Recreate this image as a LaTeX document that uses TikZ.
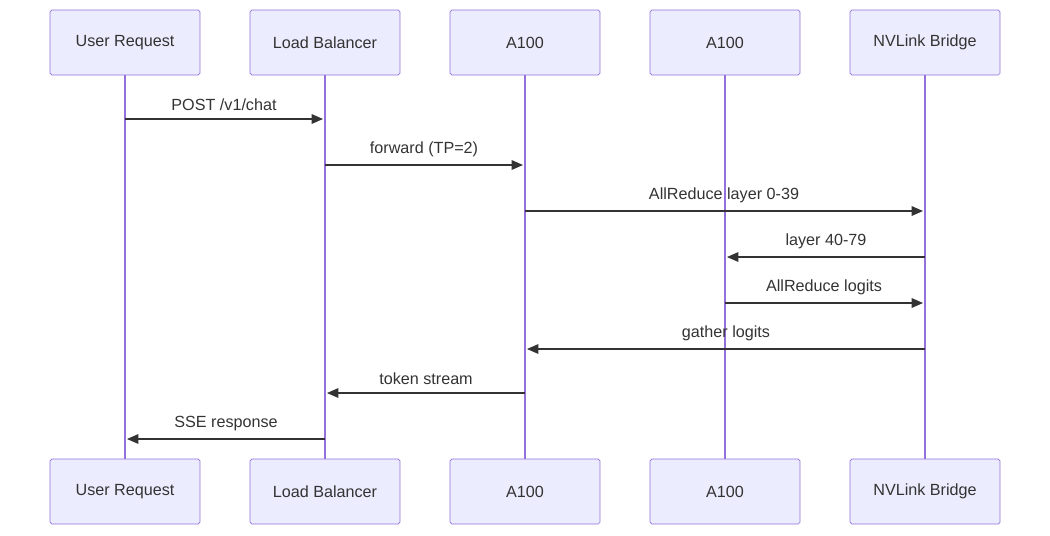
\documentclass[tikz,border=0pt]{standalone}
\usepackage{fontspec}
\setmainfont{Liberation Sans}
\usetikzlibrary{positioning,arrows.meta}
\definecolor{boxfill}{HTML}{ECECFF}
\definecolor{boxline}{HTML}{9370DB}
\definecolor{msgline}{HTML}{333333}

\begin{document}
\begin{tikzpicture}[
      x=0.02cm, y=-0.02cm,
      every node/.style={font=\fontsize{9.2}{11}\selectfont, text=msgline},
      actor/.style={rectangle, draw=boxline, fill=boxfill, rounded corners=1pt, minimum width=3cm, minimum height=1.3cm},
      life/.style={draw=boxline, line width=0.9pt},
      msg/.style={-{Triangle[length=6.5pt,width=5.5pt]}, draw=msgline, line width=0.7pt},
      lbl/.style={above=1pt, midway}
  ]
  \useasboundingbox (0,0) rectangle (1050,535);

  % Participants
  \foreach \i/\x/\t in {u/125/User Request, lb/325/Load Balancer, ga/525/A100, gb/725/A100, nv/925/NVLink Bridge} {
    \node[actor] (\i top) at (\x,42.5) {\t};
    \node[actor] (\i bot) at (\x,491.5) {\t};
    \draw[life] (\i top) -- (\i bot);
  }

  % Message points
  \coordinate (m1a) at (125,119); \coordinate (m1b) at (323,119);
  \coordinate (m2a) at (325,165); \coordinate (m2b) at (523,165);
  \coordinate (m3a) at (525,211); \coordinate (m3b) at (923,211);
  \coordinate (m4a) at (925,257); \coordinate (m4b) at (727,257);
  \coordinate (m5a) at (725,303); \coordinate (m5b) at (923,303);
  \coordinate (m6a) at (925,349); \coordinate (m6b) at (527,349);
  \coordinate (m7a) at (525,393); \coordinate (m7b) at (327,393);
  \coordinate (m8a) at (325,439); \coordinate (m8b) at (127,439);

  % Messages
  \draw[msg] (m1a) -- (m1b) node[lbl] {POST /v1/chat};
  \draw[msg] (m2a) -- (m2b) node[lbl] {forward (TP=2)};
  \draw[msg] (m3a) -- (m3b) node[lbl] {AllReduce layer 0-39};
  \draw[msg] (m4a) -- (m4b) node[lbl] {layer 40-79};
  \draw[msg] (m5a) -- (m5b) node[lbl] {AllReduce logits};
  \draw[msg] (m6a) -- (m6b) node[lbl] {gather logits};
  \draw[msg] (m7a) -- (m7b) node[lbl] {token stream};
  \draw[msg] (m8a) -- (m8b) node[lbl] {SSE response};

\end{tikzpicture}
\end{document}
